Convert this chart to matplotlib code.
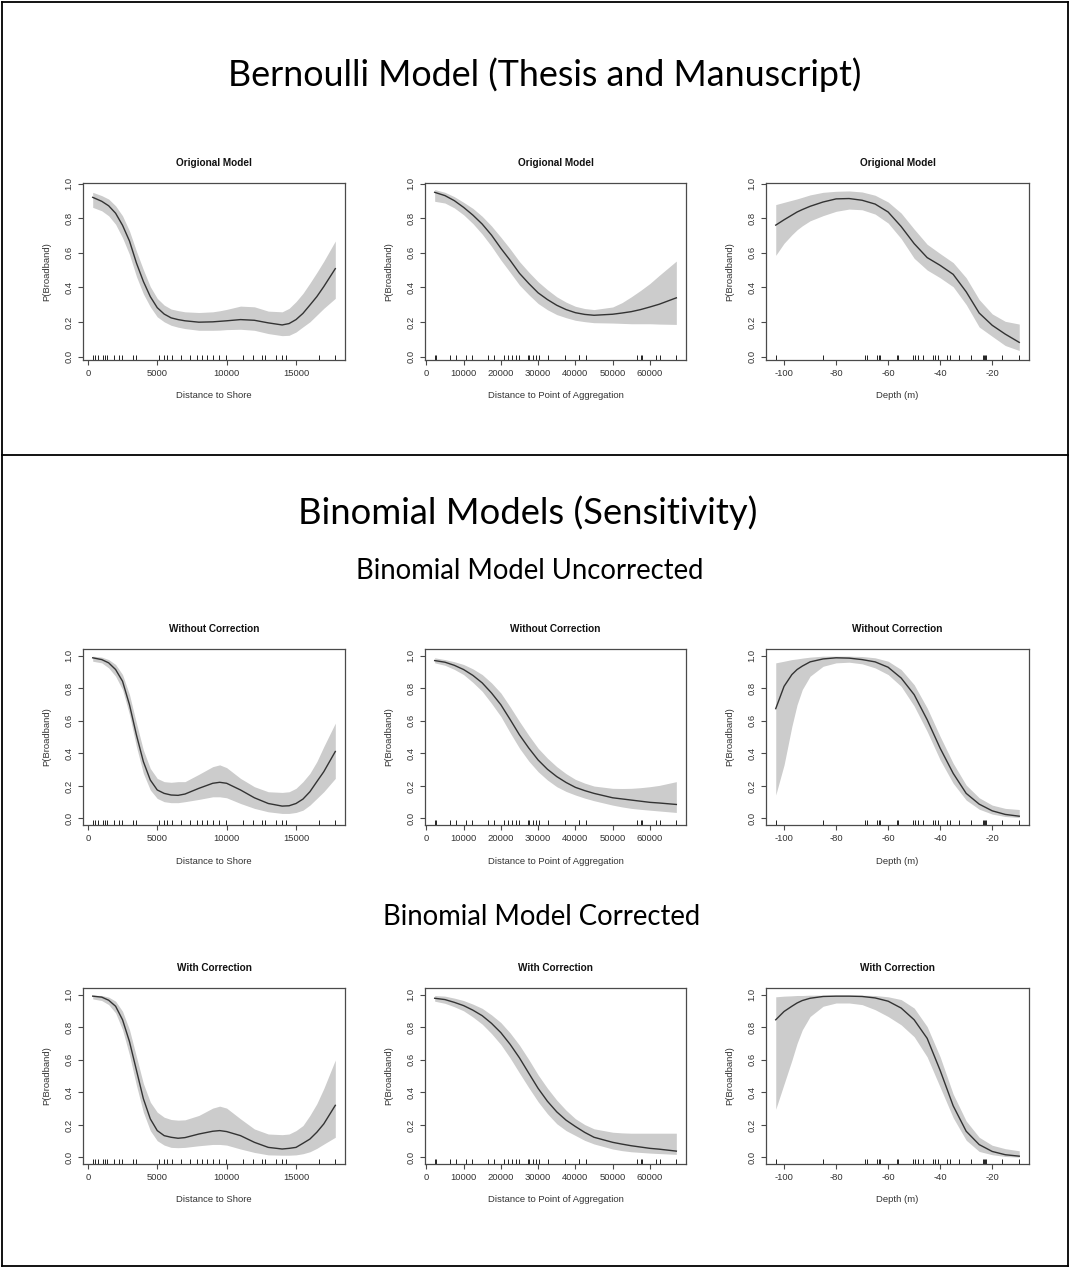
import matplotlib
matplotlib.use("Agg")
import matplotlib.pyplot as plt
from matplotlib.lines import Line2D
from matplotlib.transforms import blended_transform_factory

# rug positions (observed covariate values)
shore_rug = [350, 520, 700, 1090, 1230, 1360, 1920, 2240, 2430, 3220, 3460,
             5120, 5480, 5730, 6090, 6690, 7340, 7900, 8260, 8620, 9030, 9470,
             9950, 11170, 11900, 12570, 12760, 13570, 13960, 14260, 16620, 17830]
agg_rug = [2240, 2510, 6370, 7890, 10670, 12200, 16680, 18210, 20900, 21970,
           22960, 24040, 24930, 27180, 27440, 28520, 29420, 30310, 32560, 37310,
           40900, 41080, 42870, 56590, 57670, 57940, 61700, 62780, 67090]
depth_rug = [-103.2, -85.1, -68.7, -68.2, -64.1, -63.7, -63.2, -56.7, -56.1,
             -50.4, -49.6, -48.7, -46.7, -42.9, -41.8, -41.0, -37.4, -36.4,
             -32.8, -28.3, -23.5, -23.1, -22.7, -22.2, -16.4, -9.6]

# prediction grids
shore_x = [350, 1000, 1500, 2000, 2500, 3000, 3500, 4000, 4500, 5000, 5500,
           6000, 6500, 7000, 8000, 9000, 9500, 10000, 11000, 12000, 13000,
           14000, 14500, 15000, 15500, 16000, 16500, 17000, 17830]
agg_x = [2240, 5000, 7500, 10000, 12500, 15000, 17500, 20000, 22500, 25000,
         27500, 30000, 32500, 35000, 37500, 40000, 42500, 45000, 50000, 52500,
         55000, 57500, 60000, 62500, 67090]
depth_x = [-103.2, -100, -97, -95, -93, -90, -85, -80, -75, -70, -65, -60,
           -55, -50, -45, -40, -35, -30, -25, -20, -15, -9.6]

# Bernoulli model
orig_shore_fit = [0.922, 0.899, 0.873, 0.830, 0.760, 0.669, 0.542, 0.435, 0.347,
                  0.283, 0.246, 0.224, 0.214, 0.207, 0.199, 0.201, 0.204, 0.207,
                  0.214, 0.210, 0.195, 0.183, 0.191, 0.214, 0.250, 0.298, 0.347,
                  0.405, 0.509]
orig_shore_hi = [0.951, 0.932, 0.912, 0.873, 0.815, 0.727, 0.610, 0.503, 0.405,
                 0.337, 0.298, 0.275, 0.266, 0.259, 0.255, 0.259, 0.265, 0.273,
                 0.292, 0.288, 0.263, 0.259, 0.279, 0.318, 0.366, 0.425, 0.487,
                 0.552, 0.669]
orig_shore_lo = [0.864, 0.844, 0.815, 0.766, 0.688, 0.591, 0.464, 0.363, 0.288,
                 0.230, 0.201, 0.181, 0.170, 0.162, 0.152, 0.152, 0.153, 0.156,
                 0.158, 0.152, 0.133, 0.121, 0.123, 0.142, 0.172, 0.201, 0.240,
                 0.279, 0.337]

orig_agg_fit = [0.951, 0.932, 0.903, 0.864, 0.819, 0.767, 0.703, 0.627, 0.557,
                0.482, 0.423, 0.369, 0.330, 0.297, 0.272, 0.254, 0.244, 0.239,
                0.245, 0.252, 0.260, 0.272, 0.287, 0.303, 0.340]
orig_agg_hi = [0.967, 0.951, 0.926, 0.893, 0.858, 0.812, 0.756, 0.691, 0.623,
               0.550, 0.489, 0.433, 0.387, 0.346, 0.315, 0.291, 0.278, 0.272,
               0.287, 0.312, 0.346, 0.383, 0.423, 0.470, 0.553]
orig_agg_lo = [0.899, 0.889, 0.861, 0.821, 0.770, 0.709, 0.638, 0.559, 0.487,
               0.414, 0.358, 0.307, 0.271, 0.243, 0.225, 0.210, 0.202, 0.196,
               0.194, 0.192, 0.190, 0.190, 0.190, 0.188, 0.186]

orig_depth_fit = [0.761, 0.792, 0.819, 0.837, 0.851, 0.870, 0.895, 0.913, 0.915,
                  0.905, 0.883, 0.837, 0.753, 0.654, 0.573, 0.528, 0.476, 0.375,
                  0.252, 0.181, 0.130, 0.082]
orig_depth_hi = [0.880, 0.893, 0.905, 0.913, 0.922, 0.936, 0.951, 0.957, 0.959,
                 0.953, 0.934, 0.895, 0.831, 0.738, 0.650, 0.596, 0.544, 0.456,
                 0.330, 0.247, 0.204, 0.188]
orig_depth_lo = [0.586, 0.656, 0.705, 0.734, 0.757, 0.786, 0.816, 0.841, 0.854,
                 0.850, 0.825, 0.773, 0.683, 0.569, 0.501, 0.456, 0.404, 0.301,
                 0.171, 0.117, 0.064, 0.035]

# binomial model, no correction
unc_shore_fit = [0.986, 0.975, 0.955, 0.914, 0.842, 0.698, 0.513, 0.349, 0.236,
                 0.175, 0.154, 0.144, 0.142, 0.150, 0.185, 0.216, 0.222, 0.216,
                 0.175, 0.127, 0.092, 0.076, 0.078, 0.092, 0.119, 0.164, 0.226,
                 0.287, 0.411]
unc_shore_hi = [0.996, 0.990, 0.975, 0.945, 0.883, 0.760, 0.585, 0.420, 0.307,
                0.246, 0.226, 0.222, 0.226, 0.226, 0.271, 0.318, 0.329, 0.312,
                0.246, 0.195, 0.164, 0.160, 0.164, 0.185, 0.226, 0.277, 0.349,
                0.441, 0.585]
unc_shore_lo = [0.965, 0.955, 0.924, 0.873, 0.791, 0.637, 0.441, 0.277, 0.175,
                0.123, 0.103, 0.097, 0.097, 0.103, 0.117, 0.133, 0.133, 0.127,
                0.092, 0.062, 0.041, 0.031, 0.031, 0.037, 0.051, 0.082, 0.123,
                0.164, 0.246]

unc_agg_fit = [0.969, 0.959, 0.940, 0.914, 0.878, 0.832, 0.770, 0.698, 0.607,
               0.513, 0.432, 0.359, 0.302, 0.257, 0.221, 0.191, 0.171, 0.154,
               0.127, 0.120, 0.113, 0.106, 0.099, 0.095, 0.086]
unc_agg_hi = [0.986, 0.975, 0.962, 0.945, 0.918, 0.883, 0.832, 0.770, 0.685,
              0.595, 0.510, 0.431, 0.370, 0.318, 0.275, 0.240, 0.217, 0.199,
              0.185, 0.184, 0.185, 0.189, 0.195, 0.203, 0.226]
unc_agg_lo = [0.955, 0.940, 0.915, 0.883, 0.835, 0.780, 0.706, 0.626, 0.526,
              0.431, 0.352, 0.287, 0.236, 0.195, 0.166, 0.144, 0.125, 0.109,
              0.082, 0.071, 0.062, 0.056, 0.051, 0.046, 0.037]

unc_depth_fit = [0.674, 0.811, 0.883, 0.914, 0.935, 0.961, 0.979, 0.986, 0.984,
                 0.975, 0.961, 0.928, 0.862, 0.760, 0.606, 0.431, 0.277, 0.154,
                 0.088, 0.047, 0.025, 0.014]
unc_depth_hi = [0.955, 0.965, 0.975, 0.979, 0.984, 0.990, 0.996, 0.996, 0.996,
                0.994, 0.986, 0.965, 0.914, 0.821, 0.678, 0.503, 0.339, 0.205,
                0.127, 0.082, 0.062, 0.055]
unc_depth_lo = [0.144, 0.329, 0.565, 0.698, 0.791, 0.873, 0.934, 0.955, 0.959,
                0.949, 0.924, 0.883, 0.811, 0.690, 0.534, 0.359, 0.216, 0.113,
                0.057, 0.027, 0.012, 0.006]

# binomial model, corrected
cor_shore_fit = [0.990, 0.984, 0.965, 0.928, 0.845, 0.711, 0.536, 0.361, 0.237,
                 0.165, 0.134, 0.124, 0.118, 0.122, 0.144, 0.161, 0.165, 0.159,
                 0.134, 0.093, 0.062, 0.052, 0.056, 0.062, 0.087, 0.113, 0.155,
                 0.206, 0.320]
cor_shore_hi = [0.996, 0.994, 0.984, 0.959, 0.897, 0.784, 0.619, 0.454, 0.340,
                0.278, 0.247, 0.233, 0.229, 0.231, 0.258, 0.303, 0.315, 0.303,
                0.237, 0.175, 0.144, 0.140, 0.144, 0.165, 0.196, 0.258, 0.330,
                0.423, 0.598]
cor_shore_lo = [0.973, 0.963, 0.938, 0.887, 0.784, 0.629, 0.443, 0.278, 0.165,
                0.103, 0.076, 0.062, 0.060, 0.062, 0.072, 0.080, 0.080, 0.076,
                0.052, 0.031, 0.016, 0.014, 0.014, 0.016, 0.023, 0.035, 0.056,
                0.082, 0.124]

cor_agg_fit = [0.977, 0.969, 0.952, 0.932, 0.904, 0.870, 0.823, 0.766, 0.694,
               0.611, 0.517, 0.424, 0.345, 0.280, 0.229, 0.190, 0.154, 0.124,
               0.093, 0.082, 0.072, 0.064, 0.056, 0.051, 0.039]
cor_agg_hi = [0.994, 0.990, 0.978, 0.963, 0.941, 0.915, 0.875, 0.828, 0.764,
              0.689, 0.601, 0.507, 0.425, 0.352, 0.290, 0.238, 0.202, 0.176,
              0.155, 0.151, 0.149, 0.149, 0.149, 0.149, 0.149]
cor_agg_lo = [0.959, 0.946, 0.925, 0.900, 0.862, 0.818, 0.760, 0.693, 0.610,
              0.518, 0.428, 0.342, 0.268, 0.207, 0.165, 0.135, 0.105, 0.083,
              0.052, 0.042, 0.035, 0.031, 0.027, 0.024, 0.019]

cor_depth_fit = [0.845, 0.896, 0.928, 0.948, 0.963, 0.977, 0.988, 0.990, 0.990,
                 0.988, 0.979, 0.959, 0.917, 0.845, 0.731, 0.534, 0.317, 0.161,
                 0.079, 0.037, 0.017, 0.008]
cor_depth_hi = [0.986, 0.990, 0.992, 0.994, 0.994, 0.996, 0.996, 0.996, 0.996,
                0.996, 0.994, 0.986, 0.969, 0.917, 0.803, 0.617, 0.389, 0.224,
                0.124, 0.075, 0.054, 0.041]
cor_depth_lo = [0.296, 0.451, 0.596, 0.700, 0.783, 0.865, 0.928, 0.948, 0.948,
                0.938, 0.907, 0.865, 0.814, 0.741, 0.617, 0.431, 0.244, 0.106,
                0.037, 0.017, 0.006, 0.002]

shore_ticks = [0, 5000, 10000, 15000]
agg_ticks = [0, 10000, 20000, 30000, 40000, 50000, 60000]
depth_ticks = [-100, -80, -60, -40, -20]
prob_ticks = [0.0, 0.2, 0.4, 0.6, 0.8, 1.0]

W, H = 1070, 1267
AX_COLOR = "#4a4a4a"
TXT_COLOR = "#333333"
plt.rcParams["font.family"] = ["Liberation Sans", "DejaVu Sans"]

fig = plt.figure(figsize=(W / 100, H / 100), dpi=100)


def panel(left, top, width, height, x, fit, lo, hi, rug, xticks, xlabel,
          title, ylim):
    ax = fig.add_axes([left / W, 1 - (top + height) / H, width / W, height / H])
    ax.fill_between(x, lo, hi, color="#cccccc", lw=0)
    ax.plot(x, fit, color="#333333", lw=1.0, solid_joinstyle="round")
    trans = blended_transform_factory(ax.transData, ax.transAxes)
    ax.vlines(rug, 0, 0.03, transform=trans, color="#222222", lw=0.7)

    span = max(rug) - min(rug)
    ax.set_xlim(min(rug) - 0.04 * span, max(rug) + 0.04 * span)
    ax.set_ylim(*ylim)
    ax.set_xticks(xticks)
    ax.set_xticklabels([str(t) for t in xticks])
    ax.set_yticks(prob_ticks)
    ax.set_yticklabels(["%.1f" % t for t in prob_ticks])
    for s in ax.spines.values():
        s.set_color(AX_COLOR)
        s.set_linewidth(0.9)
    ax.tick_params(axis="both", direction="out", length=3.6, width=0.8,
                   color=AX_COLOR, labelsize=6.8, labelcolor=TXT_COLOR)
    ax.tick_params(axis="x", pad=2.6)
    ax.tick_params(axis="y", pad=3.2, labelrotation=90)
    for lbl in ax.get_yticklabels():
        lbl.set_verticalalignment("center")

    ax.text(0.5, -36 / height, xlabel, transform=ax.transAxes, ha="center",
            va="center", fontsize=6.8, color=TXT_COLOR)
    ax.text(-36 / width, 0.5, "P(Broadband)", transform=ax.transAxes,
            ha="center", va="center", rotation=90, fontsize=6.8,
            color=TXT_COLOR)
    ax.text(0.5, 1 + 20 / height, title, transform=ax.transAxes, ha="center",
            va="center", fontsize=7.2, fontweight="bold", color="#111111")
    return ax


cols = [(83, 262), (425, 261), (766, 263)]
rows = [
    (183, 177, "Origional Model", (-0.02, 1.005),
     [(orig_shore_fit, orig_shore_lo, orig_shore_hi),
      (orig_agg_fit, orig_agg_lo, orig_agg_hi),
      (orig_depth_fit, orig_depth_lo, orig_depth_hi)]),
    (649, 176, "Without Correction", (-0.04, 1.04),
     [(unc_shore_fit, unc_shore_lo, unc_shore_hi),
      (unc_agg_fit, unc_agg_lo, unc_agg_hi),
      (unc_depth_fit, unc_depth_lo, unc_depth_hi)]),
    (988, 176, "With Correction", (-0.04, 1.04),
     [(cor_shore_fit, cor_shore_lo, cor_shore_hi),
      (cor_agg_fit, cor_agg_lo, cor_agg_hi),
      (cor_depth_fit, cor_depth_lo, cor_depth_hi)]),
]
covariates = [
    (shore_x, shore_rug, shore_ticks, "Distance to Shore"),
    (agg_x, agg_rug, agg_ticks, "Distance to Point of Aggregation"),
    (depth_x, depth_rug, depth_ticks, "Depth (m)"),
]

for top, height, title, ylim, curves in rows:
    for (left, width), (x, rug, ticks, xlabel), (fit, lo, hi) in zip(
            cols, covariates, curves):
        panel(left, top, width, height, x, fit, lo, hi, rug, ticks, xlabel,
              title, ylim)

# section headings
head = ["Lato", "DejaVu Sans"]
fig.text(545 / W, 1 - 75 / H, "Bernoulli Model (Thesis and Manuscript)",
         ha="center", va="center", fontsize=25.8, family=head)
fig.text(528 / W, 1 - 513 / H, "Binomial Models (Sensitivity)",
         ha="center", va="center", fontsize=26.2, family=head)
fig.text(530 / W, 1 - 571 / H, "Binomial Model Uncorrected",
         ha="center", va="center", fontsize=19.8, family=head)
fig.text(542 / W, 1 - 917 / H, "Binomial Model Corrected",
         ha="center", va="center", fontsize=19.8, family=head)

# frame and divider
x0, x1 = 2 / W, 1068 / W
y0, y1 = 1 - 1266 / H, 1 - 2 / H
ydiv = 1 - 455 / H
for xs, ys in [([x0, x1], [y1, y1]), ([x0, x1], [y0, y0]),
               ([x0, x0], [y0, y1]), ([x1, x1], [y0, y1]),
               ([x0, x1], [ydiv, ydiv])]:
    fig.add_artist(Line2D(xs, ys, color="black", lw=1.3,
                          transform=fig.transFigure))

fig.savefig("out.png", dpi=100)
